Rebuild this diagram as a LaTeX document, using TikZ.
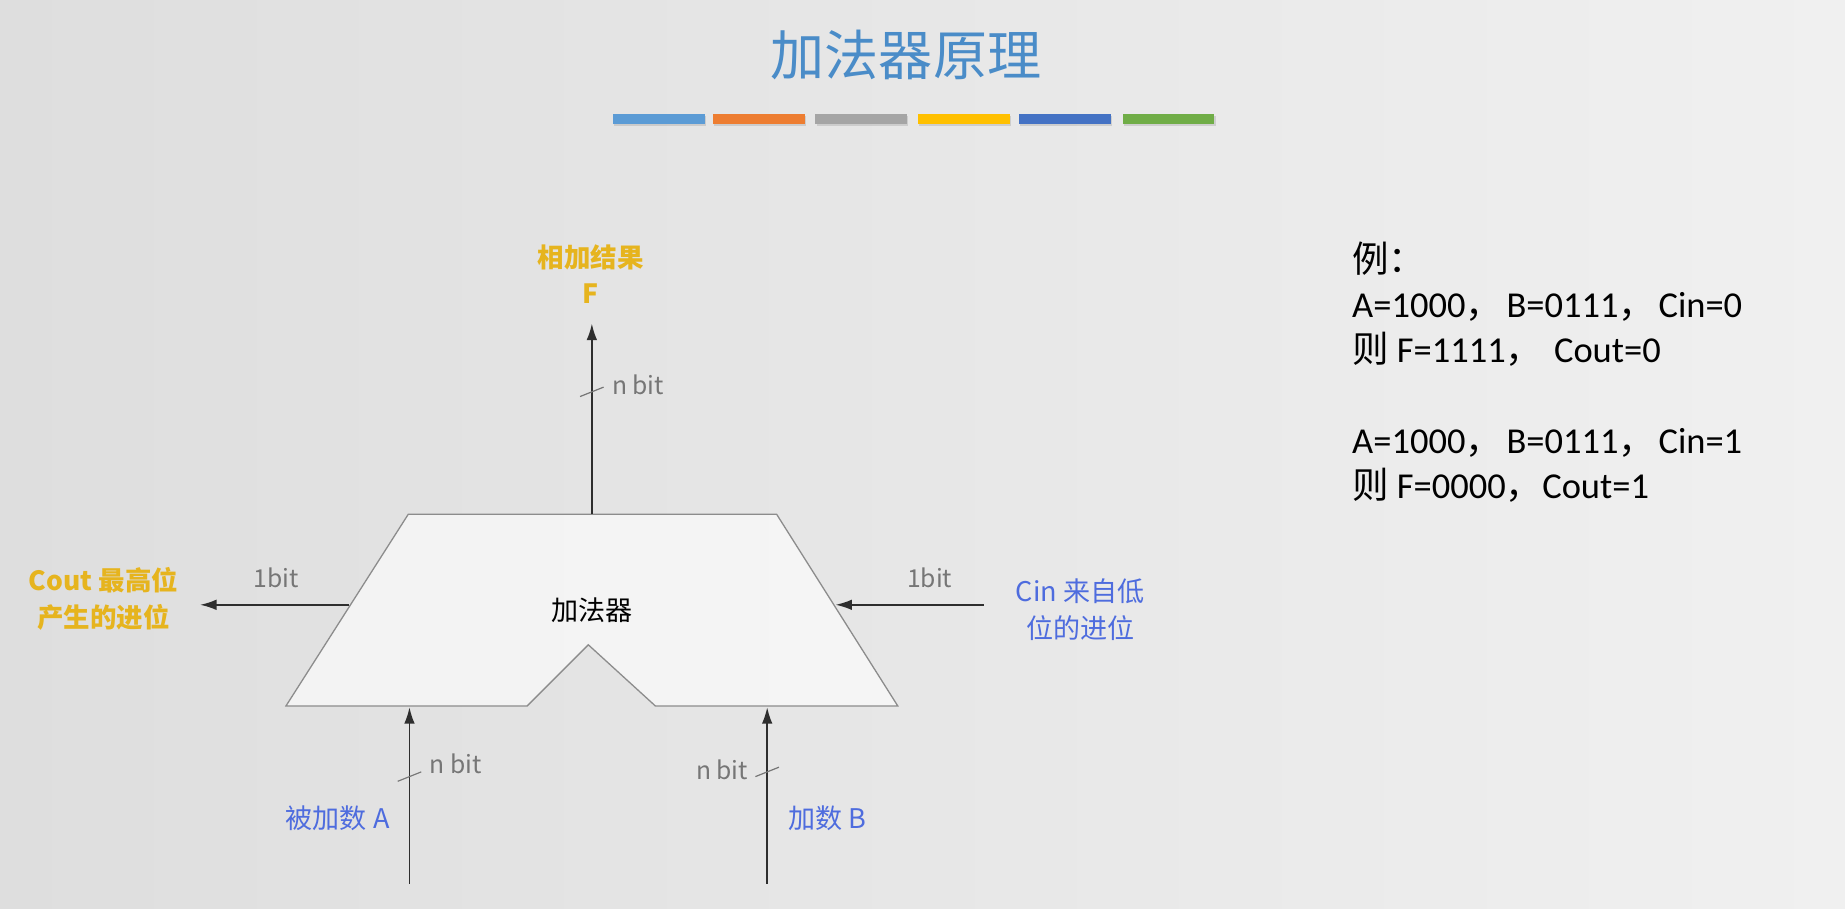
\documentclass[tikz,border=0pt]{standalone}
\usepackage{fontspec}
\setmainfont{Carlito}
\newfontfamily\cjk{Noto Sans CJK SC}
\usetikzlibrary{arrows.meta,shadows}
\definecolor{titleblue}{RGB}{74,140,200}
\definecolor{barA}{RGB}{91,155,213}
\definecolor{barB}{RGB}{237,125,49}
\definecolor{barC}{RGB}{165,165,165}
\definecolor{barD}{RGB}{255,192,0}
\definecolor{barE}{RGB}{68,114,196}
\definecolor{barF}{RGB}{112,173,71}
\definecolor{gold}{RGB}{230,180,30}
\definecolor{lblblue}{RGB}{78,108,222}
\definecolor{bitgray}{RGB}{118,118,118}
\definecolor{edge}{RGB}{140,140,140}
\definecolor{bgL}{RGB}{222,222,222}
\definecolor{bgM}{RGB}{247,247,247}
\definecolor{bgR}{RGB}{240,240,240}
\tikzset{
  colbar/.style={minimum width=78pt,minimum height=9pt,inner sep=0pt,draw=none,drop shadow={shadow xshift=1pt,shadow yshift=-2pt,opacity=0.25}},
  arr/.style={line width=1.5pt,draw=black!82,-{Latex[length=14pt,width=9pt]}},
  slash/.style={line width=1pt,draw=bitgray},
  bitlbl/.style={text=bitgray,font=\cjk\fontsize{21}{24}\selectfont,inner sep=0pt},
  goldlbl/.style={text=gold,font=\cjk\bfseries\fontsize{22.5}{31}\selectfont,align=center,inner sep=0pt},
  bluelbl/.style={text=lblblue,font=\cjk\fontsize{23}{31}\selectfont,align=center,inner sep=0pt},
}
\begin{document}
\begin{tikzpicture}[x=1pt,y=-1pt]
\useasboundingbox (0,0) rectangle (1568,772.5);
\shade[left color=bgL,middle color=bgM,right color=bgR] (0,0) rectangle (1568,772.5);

% title
\node[text=titleblue,font=\cjk\fontsize{46}{46}\selectfont,inner sep=0pt] (title) at (770,47) {加法器原理};

% colour bars
\node[colbar,fill=barA] (b1) at (560,101) {};
\node[colbar,fill=barB] (b2) at (645,101) {};
\node[colbar,fill=barC] (b3) at (732,101) {};
\node[colbar,fill=barD] (b4) at (819,101) {};
\node[colbar,fill=barE] (b5) at (905,101) {};
\node[colbar,fill=barF] (b6) at (993,101) {};

% adder shape
\coordinate (tl) at (347,437);
\coordinate (tr) at (660,437);
\coordinate (br) at (763,600);
\coordinate (nr) at (557,600);
\coordinate (pk) at (500,548);
\coordinate (nl) at (448,600);
\coordinate (bl) at (243,600);
\filldraw[draw=edge,fill=white,fill opacity=0.6,line width=1.1pt,line join=miter]
  (tl) -- (tr) -- (br) -- (nr) -- (pk) -- (nl) -- (bl) -- cycle;
\node[font=\cjk\fontsize{23}{26}\selectfont,inner sep=0pt] (adder) at (503,519) {加法器};

% output F
\coordinate (Ftail) at (503,437);
\coordinate (Ftip) at (503,275);
\coordinate (Fsl) at (503,333);
\draw[arr] (Ftail) -- (Ftip);
\draw[slash] ([shift={(-10,4)}]Fsl) -- ([shift={(10,-4)}]Fsl);
\node[bitlbl,anchor=west] (Fbit) at (520,327) {n bit};
\node[goldlbl] (Flbl) at (502,233) {相加结果\\F};

% Cout
\coordinate (Coutail) at (297,514);
\coordinate (Couttip) at (170,514);
\draw[arr] (Coutail) -- (Couttip);
\node[bitlbl] (Coutbit) at (235,491) {1bit};
\node[goldlbl] (Coutlbl) at (88,509) {Cout 最高位\\产生的进位};

% Cin
\coordinate (Cintail) at (836,514);
\coordinate (Cintip) at (710,514);
\draw[arr] (Cintail) -- (Cintip);
\node[bitlbl] (Cinbit) at (790,491) {1bit};
\node[bluelbl] (Cinlbl) at (918,518) {Cin 来自低\\位的进位};

% input A
\coordinate (Atail) at (348,751);
\coordinate (Atip) at (348,601);
\coordinate (Asl) at (348,660);
\draw[arr] (Atail) -- (Atip);
\draw[slash] ([shift={(-10,4)}]Asl) -- ([shift={(10,-4)}]Asl);
\node[bitlbl,anchor=west] (Abit) at (365,649) {n bit};
\node[bluelbl] (Albl) at (287,695) {被加数 A};

% input B
\coordinate (Btail) at (652,751);
\coordinate (Btip) at (652,601);
\coordinate (Bsl) at (652,656);
\draw[arr] (Btail) -- (Btip);
\draw[slash] ([shift={(-10,4)}]Bsl) -- ([shift={(10,-4)}]Bsl);
\node[bitlbl,anchor=east] (Bbit) at (636,654) {n bit};
\node[bluelbl] (Blbl) at (703,695) {加数 B};

% example text
\node[anchor=north west,align=left,inner sep=0pt,font=\fontsize{31}{38.5}\selectfont] (ex) at (1149,205)
{{\cjk 例：}\\
A=1000{\cjk ，}\hspace{4pt}B=0111{\cjk ，}\hspace{3pt}Cin=0\\
{\cjk 则} F=1111{\cjk ，}\hspace{10pt}Cout=0\\[38.5pt]
A=1000{\cjk ，}\hspace{4pt}B=0111{\cjk ，}\hspace{3pt}Cin=1\\
{\cjk 则} F=0000{\cjk ，}Cout=1};
\end{tikzpicture}
\end{document}
